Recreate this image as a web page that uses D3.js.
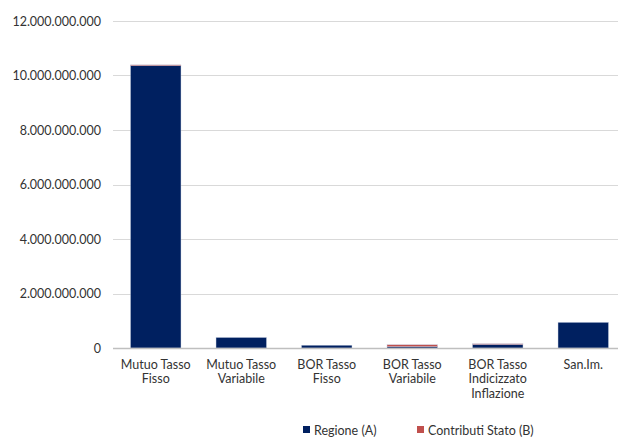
<!DOCTYPE html>
<html>
<head>
<meta charset="utf-8">
<style>
  body { margin: 0; background: #fff; }
  svg { display: block; font-family: Lato, "Open Sans", sans-serif; }
</style>
</head>
<body>
<svg id="chart"></svg>
<script src="https://d3js.org/d3.v7.min.js"></script>
<script>

  var categories = [
    ["Mutuo Tasso", "Fisso"],
    ["Mutuo Tasso", "Variabile"],
    ["BOR Tasso", "Fisso"],
    ["BOR Tasso", "Variabile"],
    ["BOR Tasso", "Indicizzato", "Inflazione"],
    ["San.Im."]
  ];
  var regione = [10360000000, 385000000, 100000000, 50000000, 130000000, 940000000];
  var contributi = [30000000, 0, 0, 70000000, 25000000, 0];
  var seriesNames = ["Regione (A)", "Contributi Stato (B)"];
  var yTicks = [0, 2000000000, 4000000000, 6000000000, 8000000000, 10000000000, 12000000000];

  var width = 618, height = 438;
  var colors = ["#002060", "#C0504D"];

  var svg = d3.select("#chart")
    .attr("width", width)
    .attr("height", height);

  var x = d3.scaleBand()
    .domain(d3.range(categories.length))
    .range([113, 626])
    .paddingInner(0.41)
    .paddingOuter(0.205);

  var y = d3.scaleLinear()
    .domain([0, 12000000000])
    .range([348, 21]);

  var fmt = function(v) {
    return d3.format(",")(v).replace(/,/g, ".");
  };

  // gridlines
  svg.append("g")
    .selectAll("line")
    .data(yTicks.slice(1))
    .enter().append("line")
    .attr("x1", 113)
    .attr("x2", 626)
    .attr("y1", function(d) { return Math.round(y(d)) + 0.5; })
    .attr("y2", function(d) { return Math.round(y(d)) + 0.5; })
    .attr("stroke", "#d9d9d9")
    .attr("stroke-width", 1);

  // y labels
  svg.append("g")
    .selectAll("text")
    .data(yTicks)
    .enter().append("text")
    .attr("x", 101)
    .attr("y", function(d) { return y(d) + 4.5; })
    .attr("text-anchor", "end")
    .attr("font-size", 12.5)
    .attr("fill", "#333")
    .text(fmt);

  // stacked bars
  var rows = categories.map(function(c, i) {
    return { idx: i, a: regione[i], b: contributi[i] };
  });
  var stack = d3.stack().keys(["a", "b"])(rows);

  svg.append("g")
    .selectAll("g")
    .data(stack)
    .enter().append("g")
    .attr("fill", function(d, i) { return colors[i]; })
    .selectAll("rect")
    .data(function(d) { return d.filter(function(s) { return s[1] > s[0]; }); })
    .enter().append("rect")
    .attr("x", function(d) { return x(d.data.idx); })
    .attr("width", x.bandwidth())
    .attr("y", function(d) { return y(d[1]); })
    .attr("height", function(d) { return y(d[0]) - y(d[1]); })
    .attr("stroke", "#c4cde0")
    .attr("stroke-width", 0.4);

  // x axis line
  svg.append("line")
    .attr("x1", 113)
    .attr("x2", 626)
    .attr("y1", 348.5)
    .attr("y2", 348.5)
    .attr("stroke", "#bfbfbf")
    .attr("stroke-width", 1.5);

  // category labels
  var labels = svg.append("g")
    .selectAll("text")
    .data(categories)
    .enter().append("text")
    .attr("text-anchor", "middle")
    .attr("font-size", 12.5)
    .attr("fill", "#333")
    .attr("transform", function(d, i) {
      return "translate(" + (x(i) + x.bandwidth() / 2) + ",368.5)";
    });

  labels.selectAll("tspan")
    .data(function(d) { return d; })
    .enter().append("tspan")
    .attr("x", 0)
    .attr("dy", function(d, i) { return i === 0 ? 0 : 14.5; })
    .text(function(d) { return d; });

  // legend
  var legendX = [303, 417];
  var legend = svg.append("g")
    .selectAll("g")
    .data(seriesNames)
    .enter().append("g")
    .attr("transform", function(d, i) { return "translate(" + legendX[i] + ",426)"; });

  legend.append("rect")
    .attr("width", 7)
    .attr("height", 7)
    .attr("fill", function(d, i) { return colors[i]; });

  legend.append("text")
    .attr("x", 11)
    .attr("y", 8.5)
    .attr("font-size", 12.5)
    .attr("fill", "#333")
    .text(function(d) { return d; });

</script>
</body>
</html>
